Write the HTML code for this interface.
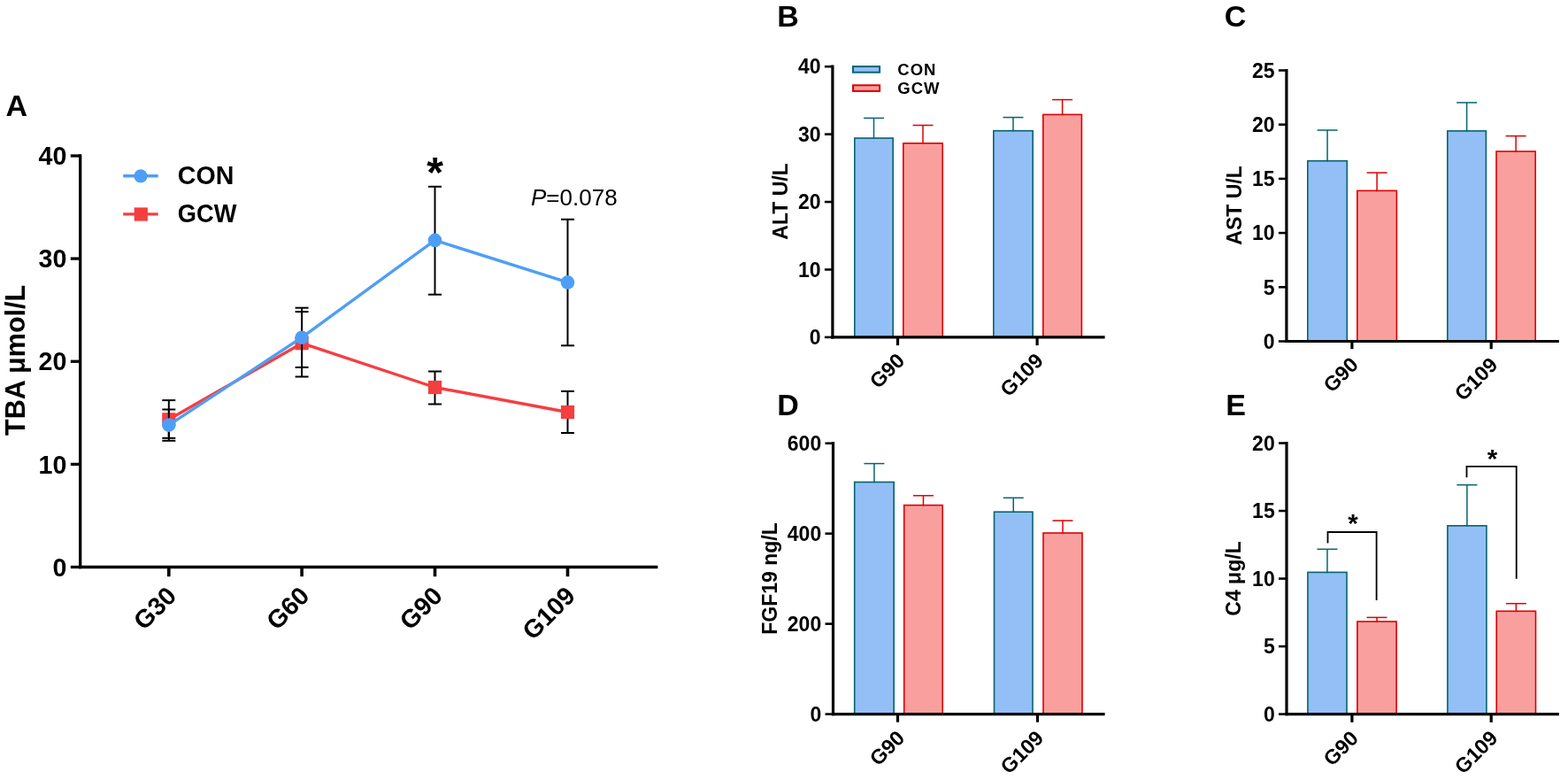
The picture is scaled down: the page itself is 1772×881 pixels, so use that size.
<!DOCTYPE html>
<html><head><meta charset="utf-8"><title>Figure</title>
<style>
html,body{margin:0;padding:0;background:#fff;}
svg{display:block;}
text{font-family:'Liberation Sans', Arial, sans-serif;fill:#000;}
</style></head>
<body>
<svg width="1772" height="881" viewBox="0 0 1772 881">
<rect x="0" y="0" width="1772" height="881" fill="#fff"/>
<text x="6.6" y="131.4" font-size="34" font-weight="bold" text-anchor="start" >A</text>
<text x="878.2" y="29.5" font-size="34" font-weight="bold" text-anchor="start" >B</text>
<text x="1383.8" y="29.5" font-size="34" font-weight="bold" text-anchor="start" >C</text>
<text x="878.2" y="469.2" font-size="34" font-weight="bold" text-anchor="start" >D</text>
<text x="1385.2" y="469.2" font-size="34" font-weight="bold" text-anchor="start" >E</text>
<line x1="90.7" y1="174.35" x2="90.7" y2="642.15" stroke="#000" stroke-width="3.3" stroke-linecap="butt"/>
<line x1="89.05" y1="640.5" x2="743.4" y2="640.5" stroke="#000" stroke-width="3.3" stroke-linecap="butt"/>
<line x1="79.8" y1="640.5" x2="90.7" y2="640.5" stroke="#000" stroke-width="3.3" stroke-linecap="butt"/>
<text x="75.3" y="650.7" font-size="28.6" font-weight="bold" text-anchor="end" >0</text>
<line x1="79.8" y1="524.38" x2="90.7" y2="524.38" stroke="#000" stroke-width="3.3" stroke-linecap="butt"/>
<text x="75.3" y="534.58" font-size="28.6" font-weight="bold" text-anchor="end" >10</text>
<line x1="79.8" y1="408.25" x2="90.7" y2="408.25" stroke="#000" stroke-width="3.3" stroke-linecap="butt"/>
<text x="75.3" y="418.45" font-size="28.6" font-weight="bold" text-anchor="end" >20</text>
<line x1="79.8" y1="292.12" x2="90.7" y2="292.12" stroke="#000" stroke-width="3.3" stroke-linecap="butt"/>
<text x="75.3" y="302.32" font-size="28.6" font-weight="bold" text-anchor="end" >30</text>
<line x1="79.8" y1="176" x2="90.7" y2="176" stroke="#000" stroke-width="3.3" stroke-linecap="butt"/>
<text x="75.3" y="186.2" font-size="28.6" font-weight="bold" text-anchor="end" >40</text>
<line x1="190.8" y1="640.5" x2="190.8" y2="651.2" stroke="#000" stroke-width="3.6" stroke-linecap="butt"/>
<text x="201" y="674.8" font-size="28.6" font-weight="bold" text-anchor="end" transform="rotate(-45 201 674.8)">G30</text>
<line x1="341.1" y1="640.5" x2="341.1" y2="651.2" stroke="#000" stroke-width="3.6" stroke-linecap="butt"/>
<text x="351.3" y="674.8" font-size="28.6" font-weight="bold" text-anchor="end" transform="rotate(-45 351.3 674.8)">G60</text>
<line x1="491.5" y1="640.5" x2="491.5" y2="651.2" stroke="#000" stroke-width="3.6" stroke-linecap="butt"/>
<text x="501.7" y="674.8" font-size="28.6" font-weight="bold" text-anchor="end" transform="rotate(-45 501.7 674.8)">G90</text>
<line x1="641.5" y1="640.5" x2="641.5" y2="651.2" stroke="#000" stroke-width="3.6" stroke-linecap="butt"/>
<text x="651.7" y="674.8" font-size="28.6" font-weight="bold" text-anchor="end" transform="rotate(-45 651.7 674.8)">G109</text>
<text x="0" y="0" font-size="30.5" font-weight="bold" text-anchor="start" transform="translate(27.8 491.9) rotate(-90)">TBA μmol/L</text>
<polyline points="190.8,473.8 341.1,387.7 491.5,437.5 641.5,465.5" fill="none" stroke="#F53E40" stroke-width="3.4" stroke-linejoin="round"/>
<line x1="190.8" y1="462.5" x2="190.8" y2="494.8" stroke="#000" stroke-width="2" stroke-linecap="butt"/>
<line x1="183.3" y1="462.5" x2="198.3" y2="462.5" stroke="#000" stroke-width="2" stroke-linecap="butt"/>
<line x1="183.3" y1="494.8" x2="198.3" y2="494.8" stroke="#000" stroke-width="2" stroke-linecap="butt"/>
<line x1="341.1" y1="352.1" x2="341.1" y2="414.9" stroke="#000" stroke-width="2" stroke-linecap="butt"/>
<line x1="333.6" y1="352.1" x2="348.6" y2="352.1" stroke="#000" stroke-width="2" stroke-linecap="butt"/>
<line x1="333.6" y1="414.9" x2="348.6" y2="414.9" stroke="#000" stroke-width="2" stroke-linecap="butt"/>
<line x1="491.5" y1="419.5" x2="491.5" y2="456.5" stroke="#000" stroke-width="2" stroke-linecap="butt"/>
<line x1="484" y1="419.5" x2="499" y2="419.5" stroke="#000" stroke-width="2" stroke-linecap="butt"/>
<line x1="484" y1="456.5" x2="499" y2="456.5" stroke="#000" stroke-width="2" stroke-linecap="butt"/>
<line x1="641.5" y1="441.9" x2="641.5" y2="489" stroke="#000" stroke-width="2" stroke-linecap="butt"/>
<line x1="634" y1="441.9" x2="649" y2="441.9" stroke="#000" stroke-width="2" stroke-linecap="butt"/>
<line x1="634" y1="489" x2="649" y2="489" stroke="#000" stroke-width="2" stroke-linecap="butt"/>
<rect x="183.2" y="466.2" width="15.2" height="15.2" fill="#F53E40"/>
<rect x="333.5" y="380.1" width="15.2" height="15.2" fill="#F53E40"/>
<rect x="483.9" y="429.9" width="15.2" height="15.2" fill="#F53E40"/>
<rect x="633.9" y="457.9" width="15.2" height="15.2" fill="#F53E40"/>
<polyline points="190.8,480.1 341.1,381.2 491.5,271.4 641.5,318.9" fill="none" stroke="#4F9EF6" stroke-width="3.4" stroke-linejoin="round"/>
<line x1="190.8" y1="452.1" x2="190.8" y2="497.8" stroke="#000" stroke-width="2" stroke-linecap="butt"/>
<line x1="183.3" y1="452.1" x2="198.3" y2="452.1" stroke="#000" stroke-width="2" stroke-linecap="butt"/>
<line x1="183.3" y1="497.8" x2="198.3" y2="497.8" stroke="#000" stroke-width="2" stroke-linecap="butt"/>
<line x1="341.1" y1="347.7" x2="341.1" y2="425.5" stroke="#000" stroke-width="2" stroke-linecap="butt"/>
<line x1="333.6" y1="347.7" x2="348.6" y2="347.7" stroke="#000" stroke-width="2" stroke-linecap="butt"/>
<line x1="333.6" y1="425.5" x2="348.6" y2="425.5" stroke="#000" stroke-width="2" stroke-linecap="butt"/>
<line x1="491.5" y1="210.8" x2="491.5" y2="332.7" stroke="#000" stroke-width="2" stroke-linecap="butt"/>
<line x1="484" y1="210.8" x2="499" y2="210.8" stroke="#000" stroke-width="2" stroke-linecap="butt"/>
<line x1="484" y1="332.7" x2="499" y2="332.7" stroke="#000" stroke-width="2" stroke-linecap="butt"/>
<line x1="641.5" y1="247.8" x2="641.5" y2="390.3" stroke="#000" stroke-width="2" stroke-linecap="butt"/>
<line x1="634" y1="247.8" x2="649" y2="247.8" stroke="#000" stroke-width="2" stroke-linecap="butt"/>
<line x1="634" y1="390.3" x2="649" y2="390.3" stroke="#000" stroke-width="2" stroke-linecap="butt"/>
<circle cx="190.8" cy="480.1" r="7.8" fill="#4F9EF6"/>
<circle cx="341.1" cy="381.2" r="7.8" fill="#4F9EF6"/>
<circle cx="491.5" cy="271.4" r="7.8" fill="#4F9EF6"/>
<circle cx="641.5" cy="318.9" r="7.8" fill="#4F9EF6"/>
<line x1="139.2" y1="198.8" x2="178.7" y2="198.8" stroke="#4F9EF6" stroke-width="3.4" stroke-linecap="butt"/>
<circle cx="159" cy="198.8" r="7.6" fill="#4F9EF6"/>
<text x="200.8" y="207.8" font-size="28.6" font-weight="bold" text-anchor="start" >CON</text>
<line x1="139.2" y1="241.9" x2="178.7" y2="241.9" stroke="#F53E40" stroke-width="3.4" stroke-linecap="butt"/>
<rect x="151.7" y="234.4" width="15.2" height="15.2" fill="#F53E40"/>
<text x="200.8" y="250.8" font-size="28.6" font-weight="bold" textLength="66.6" lengthAdjust="spacingAndGlyphs">GCW</text>
<text x="491.5" y="210.7" font-size="48" font-weight="bold" text-anchor="middle" >*</text>
<text x="600" y="232" font-size="26" font-family="'Liberation Sans', Arial, sans-serif"><tspan font-style="italic">P</tspan>=0.078</text>
<line x1="940.9" y1="73.6" x2="940.9" y2="382.5" stroke="#000" stroke-width="3.2" stroke-linecap="butt"/>
<line x1="931.9" y1="380.9" x2="940.9" y2="380.9" stroke="#000" stroke-width="2.56" stroke-linecap="butt"/>
<text x="927.6" y="389.1" font-size="23" font-weight="bold" text-anchor="end" >0</text>
<line x1="931.9" y1="304.47" x2="940.9" y2="304.47" stroke="#000" stroke-width="2.56" stroke-linecap="butt"/>
<text x="927.6" y="312.67" font-size="23" font-weight="bold" text-anchor="end" >10</text>
<line x1="931.9" y1="228.05" x2="940.9" y2="228.05" stroke="#000" stroke-width="2.56" stroke-linecap="butt"/>
<text x="927.6" y="236.25" font-size="23" font-weight="bold" text-anchor="end" >20</text>
<line x1="931.9" y1="151.62" x2="940.9" y2="151.62" stroke="#000" stroke-width="2.56" stroke-linecap="butt"/>
<text x="927.6" y="159.82" font-size="23" font-weight="bold" text-anchor="end" >30</text>
<line x1="931.9" y1="75.2" x2="940.9" y2="75.2" stroke="#000" stroke-width="2.56" stroke-linecap="butt"/>
<text x="927.6" y="83.4" font-size="23" font-weight="bold" text-anchor="end" >40</text>
<rect x="965.8" y="156" width="43.4" height="224.9" fill="#93BFF6" stroke="#05646F" stroke-width="1.6"/>
<line x1="987.5" y1="133.4" x2="987.5" y2="156.8" stroke="#05646F" stroke-width="1.5" stroke-linecap="butt"/>
<line x1="976" y1="133.4" x2="999" y2="133.4" stroke="#05646F" stroke-width="1.5" stroke-linecap="butt"/>
<rect x="1020.8" y="161.8" width="44.4" height="219.1" fill="#F9A09F" stroke="#DE0000" stroke-width="1.6"/>
<line x1="1043" y1="141.5" x2="1043" y2="162.6" stroke="#DE0000" stroke-width="1.5" stroke-linecap="butt"/>
<line x1="1031.5" y1="141.5" x2="1054.5" y2="141.5" stroke="#DE0000" stroke-width="1.5" stroke-linecap="butt"/>
<rect x="1122.8" y="147.7" width="44.4" height="233.2" fill="#93BFF6" stroke="#05646F" stroke-width="1.6"/>
<line x1="1145" y1="132.6" x2="1145" y2="148.5" stroke="#05646F" stroke-width="1.5" stroke-linecap="butt"/>
<line x1="1133.5" y1="132.6" x2="1156.5" y2="132.6" stroke="#05646F" stroke-width="1.5" stroke-linecap="butt"/>
<rect x="1178.8" y="129.4" width="43.6" height="251.5" fill="#F9A09F" stroke="#DE0000" stroke-width="1.6"/>
<line x1="1200.6" y1="112.6" x2="1200.6" y2="130.2" stroke="#DE0000" stroke-width="1.5" stroke-linecap="butt"/>
<line x1="1189.1" y1="112.6" x2="1212.1" y2="112.6" stroke="#DE0000" stroke-width="1.5" stroke-linecap="butt"/>
<line x1="939.3" y1="380.9" x2="1248.6" y2="380.9" stroke="#000" stroke-width="3.2" stroke-linecap="butt"/>
<line x1="1014.5" y1="380.9" x2="1014.5" y2="390.1" stroke="#000" stroke-width="3.2" stroke-linecap="butt"/>
<line x1="1172.1" y1="380.9" x2="1172.1" y2="390.1" stroke="#000" stroke-width="3.2" stroke-linecap="butt"/>
<text x="1023.7" y="408.8" font-size="23.4" font-weight="bold" text-anchor="end" transform="rotate(-45 1023.7 408.8)">G90</text>
<text x="1180.5" y="408.8" font-size="23.4" font-weight="bold" text-anchor="end" transform="rotate(-45 1180.5 408.8)">G109</text>
<text x="0" y="0" font-size="23" font-weight="bold" text-anchor="middle" transform="translate(890 227.5) rotate(-90)">ALT U/L</text>
<line x1="1453.9" y1="77.9" x2="1453.9" y2="387.1" stroke="#000" stroke-width="3.2" stroke-linecap="butt"/>
<line x1="1444.9" y1="385.5" x2="1453.9" y2="385.5" stroke="#000" stroke-width="2.56" stroke-linecap="butt"/>
<text x="1440.6" y="393.7" font-size="23" font-weight="bold" text-anchor="end" >0</text>
<line x1="1444.9" y1="324.3" x2="1453.9" y2="324.3" stroke="#000" stroke-width="2.56" stroke-linecap="butt"/>
<text x="1440.6" y="332.5" font-size="23" font-weight="bold" text-anchor="end" >5</text>
<line x1="1444.9" y1="263.1" x2="1453.9" y2="263.1" stroke="#000" stroke-width="2.56" stroke-linecap="butt"/>
<text x="1440.6" y="271.3" font-size="23" font-weight="bold" text-anchor="end" >10</text>
<line x1="1444.9" y1="201.9" x2="1453.9" y2="201.9" stroke="#000" stroke-width="2.56" stroke-linecap="butt"/>
<text x="1440.6" y="210.1" font-size="23" font-weight="bold" text-anchor="end" >15</text>
<line x1="1444.9" y1="140.7" x2="1453.9" y2="140.7" stroke="#000" stroke-width="2.56" stroke-linecap="butt"/>
<text x="1440.6" y="148.9" font-size="23" font-weight="bold" text-anchor="end" >20</text>
<line x1="1444.9" y1="79.5" x2="1453.9" y2="79.5" stroke="#000" stroke-width="2.56" stroke-linecap="butt"/>
<text x="1440.6" y="87.7" font-size="23" font-weight="bold" text-anchor="end" >25</text>
<rect x="1477.8" y="181.7" width="44.5" height="203.8" fill="#93BFF6" stroke="#05646F" stroke-width="1.6"/>
<line x1="1500.05" y1="147" x2="1500.05" y2="182.5" stroke="#05646F" stroke-width="1.5" stroke-linecap="butt"/>
<line x1="1488.55" y1="147" x2="1511.55" y2="147" stroke="#05646F" stroke-width="1.5" stroke-linecap="butt"/>
<rect x="1533.8" y="215.4" width="44.6" height="170.1" fill="#F9A09F" stroke="#DE0000" stroke-width="1.6"/>
<line x1="1556.1" y1="195.1" x2="1556.1" y2="216.2" stroke="#DE0000" stroke-width="1.5" stroke-linecap="butt"/>
<line x1="1544.6" y1="195.1" x2="1567.6" y2="195.1" stroke="#DE0000" stroke-width="1.5" stroke-linecap="butt"/>
<rect x="1635.8" y="147.9" width="43.6" height="237.6" fill="#93BFF6" stroke="#05646F" stroke-width="1.6"/>
<line x1="1657.6" y1="115.9" x2="1657.6" y2="148.7" stroke="#05646F" stroke-width="1.5" stroke-linecap="butt"/>
<line x1="1646.1" y1="115.9" x2="1669.1" y2="115.9" stroke="#05646F" stroke-width="1.5" stroke-linecap="butt"/>
<rect x="1691" y="171" width="44.2" height="214.5" fill="#F9A09F" stroke="#DE0000" stroke-width="1.6"/>
<line x1="1713.1" y1="153.6" x2="1713.1" y2="171.8" stroke="#DE0000" stroke-width="1.5" stroke-linecap="butt"/>
<line x1="1701.6" y1="153.6" x2="1724.6" y2="153.6" stroke="#DE0000" stroke-width="1.5" stroke-linecap="butt"/>
<line x1="1452.3" y1="385.5" x2="1761.8" y2="385.5" stroke="#000" stroke-width="3.2" stroke-linecap="butt"/>
<line x1="1527.9" y1="385.5" x2="1527.9" y2="394.2" stroke="#000" stroke-width="3.2" stroke-linecap="butt"/>
<line x1="1685.2" y1="385.5" x2="1685.2" y2="394.2" stroke="#000" stroke-width="3.2" stroke-linecap="butt"/>
<text x="1536.5" y="413.3" font-size="23.4" font-weight="bold" text-anchor="end" transform="rotate(-45 1536.5 413.3)">G90</text>
<text x="1694" y="413.6" font-size="23.4" font-weight="bold" text-anchor="end" transform="rotate(-45 1694 413.6)">G109</text>
<text x="0" y="0" font-size="23" font-weight="bold" text-anchor="middle" transform="translate(1403 232) rotate(-90)">AST U/L</text>
<line x1="941.5" y1="499.1" x2="941.5" y2="808.2" stroke="#000" stroke-width="3.2" stroke-linecap="butt"/>
<line x1="932.5" y1="806.6" x2="941.5" y2="806.6" stroke="#000" stroke-width="2.56" stroke-linecap="butt"/>
<text x="928.2" y="814.8" font-size="23" font-weight="bold" text-anchor="end" >0</text>
<line x1="932.5" y1="704.63" x2="941.5" y2="704.63" stroke="#000" stroke-width="2.56" stroke-linecap="butt"/>
<text x="928.2" y="712.83" font-size="23" font-weight="bold" text-anchor="end" >200</text>
<line x1="932.5" y1="602.67" x2="941.5" y2="602.67" stroke="#000" stroke-width="2.56" stroke-linecap="butt"/>
<text x="928.2" y="610.87" font-size="23" font-weight="bold" text-anchor="end" >400</text>
<line x1="932.5" y1="500.7" x2="941.5" y2="500.7" stroke="#000" stroke-width="2.56" stroke-linecap="butt"/>
<text x="928.2" y="508.9" font-size="23" font-weight="bold" text-anchor="end" >600</text>
<rect x="965.7" y="544.5" width="44.5" height="262.1" fill="#93BFF6" stroke="#05646F" stroke-width="1.6"/>
<line x1="987.95" y1="523.6" x2="987.95" y2="545.3" stroke="#05646F" stroke-width="1.5" stroke-linecap="butt"/>
<line x1="976.45" y1="523.6" x2="999.45" y2="523.6" stroke="#05646F" stroke-width="1.5" stroke-linecap="butt"/>
<rect x="1021.7" y="570.6" width="43.5" height="236" fill="#F9A09F" stroke="#DE0000" stroke-width="1.6"/>
<line x1="1043.45" y1="559.8" x2="1043.45" y2="571.4" stroke="#DE0000" stroke-width="1.5" stroke-linecap="butt"/>
<line x1="1031.95" y1="559.8" x2="1054.95" y2="559.8" stroke="#DE0000" stroke-width="1.5" stroke-linecap="butt"/>
<rect x="1123.5" y="578.2" width="43.5" height="228.4" fill="#93BFF6" stroke="#05646F" stroke-width="1.6"/>
<line x1="1145.25" y1="562.3" x2="1145.25" y2="579" stroke="#05646F" stroke-width="1.5" stroke-linecap="butt"/>
<line x1="1133.75" y1="562.3" x2="1156.75" y2="562.3" stroke="#05646F" stroke-width="1.5" stroke-linecap="butt"/>
<rect x="1179" y="602" width="44" height="204.6" fill="#F9A09F" stroke="#DE0000" stroke-width="1.6"/>
<line x1="1201" y1="588" x2="1201" y2="602.8" stroke="#DE0000" stroke-width="1.5" stroke-linecap="butt"/>
<line x1="1189.5" y1="588" x2="1212.5" y2="588" stroke="#DE0000" stroke-width="1.5" stroke-linecap="butt"/>
<line x1="939.9" y1="806.6" x2="1248.6" y2="806.6" stroke="#000" stroke-width="3.2" stroke-linecap="butt"/>
<line x1="1014.5" y1="806.6" x2="1014.5" y2="815.7" stroke="#000" stroke-width="3.2" stroke-linecap="butt"/>
<line x1="1172.5" y1="806.6" x2="1172.5" y2="815.7" stroke="#000" stroke-width="3.2" stroke-linecap="butt"/>
<text x="1023.7" y="835" font-size="23.4" font-weight="bold" text-anchor="end" transform="rotate(-45 1023.7 835)">G90</text>
<text x="1180.8" y="835" font-size="23.4" font-weight="bold" text-anchor="end" transform="rotate(-45 1180.8 835)">G109</text>
<text x="0" y="0" font-size="23" font-weight="bold" text-anchor="middle" transform="translate(877.5 653.5) rotate(-90)">FGF19 ng/L</text>
<line x1="1454" y1="498.9" x2="1454" y2="808.2" stroke="#000" stroke-width="3.2" stroke-linecap="butt"/>
<line x1="1445" y1="806.6" x2="1454" y2="806.6" stroke="#000" stroke-width="2.56" stroke-linecap="butt"/>
<text x="1440.7" y="814.8" font-size="23" font-weight="bold" text-anchor="end" >0</text>
<line x1="1445" y1="730.08" x2="1454" y2="730.08" stroke="#000" stroke-width="2.56" stroke-linecap="butt"/>
<text x="1440.7" y="738.28" font-size="23" font-weight="bold" text-anchor="end" >5</text>
<line x1="1445" y1="653.55" x2="1454" y2="653.55" stroke="#000" stroke-width="2.56" stroke-linecap="butt"/>
<text x="1440.7" y="661.75" font-size="23" font-weight="bold" text-anchor="end" >10</text>
<line x1="1445" y1="577.02" x2="1454" y2="577.02" stroke="#000" stroke-width="2.56" stroke-linecap="butt"/>
<text x="1440.7" y="585.23" font-size="23" font-weight="bold" text-anchor="end" >15</text>
<line x1="1445" y1="500.5" x2="1454" y2="500.5" stroke="#000" stroke-width="2.56" stroke-linecap="butt"/>
<text x="1440.7" y="508.7" font-size="23" font-weight="bold" text-anchor="end" >20</text>
<rect x="1477.9" y="646.4" width="44.1" height="160.2" fill="#93BFF6" stroke="#05646F" stroke-width="1.6"/>
<line x1="1499.95" y1="620.3" x2="1499.95" y2="647.2" stroke="#05646F" stroke-width="1.5" stroke-linecap="butt"/>
<line x1="1488.45" y1="620.3" x2="1511.45" y2="620.3" stroke="#05646F" stroke-width="1.5" stroke-linecap="butt"/>
<rect x="1533.9" y="702" width="44.2" height="104.6" fill="#F9A09F" stroke="#DE0000" stroke-width="1.6"/>
<line x1="1556" y1="697.4" x2="1556" y2="702.8" stroke="#DE0000" stroke-width="1.5" stroke-linecap="butt"/>
<line x1="1544.5" y1="697.4" x2="1567.5" y2="697.4" stroke="#DE0000" stroke-width="1.5" stroke-linecap="butt"/>
<rect x="1635.9" y="593.8" width="44" height="212.8" fill="#93BFF6" stroke="#05646F" stroke-width="1.6"/>
<line x1="1657.9" y1="547.7" x2="1657.9" y2="594.6" stroke="#05646F" stroke-width="1.5" stroke-linecap="butt"/>
<line x1="1646.4" y1="547.7" x2="1669.4" y2="547.7" stroke="#05646F" stroke-width="1.5" stroke-linecap="butt"/>
<rect x="1691.2" y="690.3" width="44.3" height="116.3" fill="#F9A09F" stroke="#DE0000" stroke-width="1.6"/>
<line x1="1713.35" y1="681.7" x2="1713.35" y2="691.1" stroke="#DE0000" stroke-width="1.5" stroke-linecap="butt"/>
<line x1="1701.85" y1="681.7" x2="1724.85" y2="681.7" stroke="#DE0000" stroke-width="1.5" stroke-linecap="butt"/>
<line x1="1452.4" y1="806.6" x2="1761.8" y2="806.6" stroke="#000" stroke-width="3.2" stroke-linecap="butt"/>
<line x1="1527.9" y1="806.6" x2="1527.9" y2="815.9" stroke="#000" stroke-width="3.2" stroke-linecap="butt"/>
<line x1="1685.2" y1="806.6" x2="1685.2" y2="815.9" stroke="#000" stroke-width="3.2" stroke-linecap="butt"/>
<text x="1536.5" y="835.3" font-size="23.4" font-weight="bold" text-anchor="end" transform="rotate(-45 1536.5 835.3)">G90</text>
<text x="1694" y="835" font-size="23.4" font-weight="bold" text-anchor="end" transform="rotate(-45 1694 835)">G109</text>
<text x="0" y="0" font-size="23" font-weight="bold" text-anchor="middle" transform="translate(1401.5 653.5) rotate(-90)">C4 μg/L</text>
<rect x="964" y="75.1" width="30.1" height="6.6" fill="#93BFF6" stroke="#05646F" stroke-width="2"/>
<rect x="964" y="96.3" width="30.1" height="6.6" fill="#F9A09F" stroke="#DE0000" stroke-width="2"/>
<text x="1014.3" y="85.3" font-size="18.5" font-weight="bold" text-anchor="start" letter-spacing="1" >CON</text>
<text x="1014.3" y="106.4" font-size="18.5" font-weight="bold" text-anchor="start" letter-spacing="1" >GCW</text>
<polyline points="1500.5,613.6 1500.5,601 1555.6,601 1555.6,678" fill="none" stroke="#000" stroke-width="1.8"/>
<polyline points="1657.5,539.3 1657.5,526.9 1713.7,526.9 1713.7,653.8" fill="none" stroke="#000" stroke-width="1.8"/>
<text x="1529" y="601" font-size="29.5" font-weight="bold" text-anchor="middle" >*</text>
<text x="1686.6" y="528" font-size="29.5" font-weight="bold" text-anchor="middle" >*</text>
</svg>
</body></html>
